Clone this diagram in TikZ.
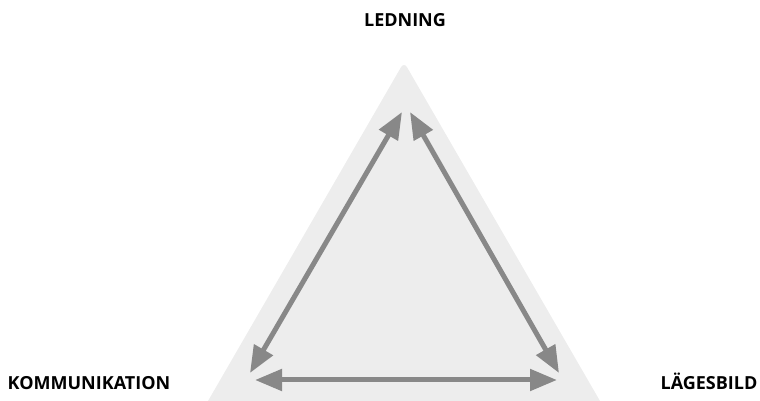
\documentclass[tikz,border=0pt]{standalone}
\usepackage{fontspec}
\setmainfont{Open Sans}
\usetikzlibrary{arrows.meta}
\definecolor{cpale}{HTML}{EDEDED}
\definecolor{cgrey}{HTML}{888888}
\tikzset{
  every picture/.style={x=1pt, y=1pt},
  corner/.style={font=\fontsize{18}{21}\selectfont\bfseries, anchor=base, inner sep=0pt},
  arrow/.style={{Triangle[length=27pt, width=21pt]}-{Triangle[length=27pt, width=21pt]}, draw=cgrey, line width=5pt},
}
\begin{document}
\begin{tikzpicture}
  \useasboundingbox (0,0) rectangle (760,401);
  % pale triangle, apex slightly rounded
  \fill[cpale] (208,0) [rounded corners=6pt] -- (404,339) [sharp corners] -- (600,0) -- cycle;
  % corner labels
  \node[corner] (led) at (405,374) {LEDNING};
  \node[corner] (kom) at (89,11) {KOMMUNIKATION};
  \node[corner] (lag) at (709,11) {LÄGESBILD};
  % arrow ends
  \coordinate (topl) at (402,289);
  \coordinate (topr) at (410,289);
  \coordinate (left) at (250,28);
  \coordinate (right) at (559,28);
  \coordinate (botl) at (255,21);
  \coordinate (botr) at (557,21);
  \draw[arrow] (topl) -- (left);
  \draw[arrow] (topr) -- (right);
  \draw[arrow] (botl) -- (botr);
\end{tikzpicture}
\end{document}
